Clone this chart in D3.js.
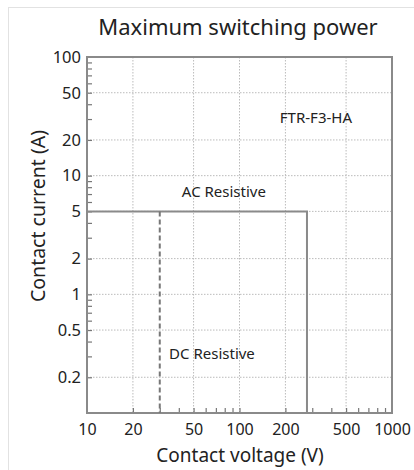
<!DOCTYPE html>
<html><head><meta charset="utf-8">
<script src="https://cdn.jsdelivr.net/npm/d3@7"></script>
<style>
html,body{margin:0;padding:0;background:#fff;}
svg{display:block;}
text{font-family:"Noto Sans",sans-serif;fill:#222;}
</style></head>
<body>
<script>
// ---- data ----
const title = "Maximum switching power";
const xLabel = "Contact voltage (V)";
const yLabel = "Contact current (A)";
const xDomain = [10, 1000];
const yDomain = [0.1, 100];
const xTickLabels = [10, 20, 50, 100, 200, 500, 1000];
const yTickLabels = [0.2, 0.5, 1, 2, 5, 10, 20, 50, 100];
const xGrid = [20, 50, 100, 200, 500];
const yGrid = [0.2, 0.5, 1, 2, 5, 10, 20, 50];
const xMinor = [20,30,40,50,60,70,80,90,100,200,300,400,500,600,700,800,900];
const yMinor = [0.2,0.3,0.4,0.5,0.6,0.7,0.8,0.9,1,2,3,4,5,6,7,8,9,10,20,30,40,50,60,70,80,90];
const acVoltage = [10, 277, 277];
const acCurrent = [5, 5, 0.1];
const dcVoltage = [30, 30];
const dcCurrent = [5, 0.1];
const notes = [
  {text:"FTR-F3-HA", v:317, a:28},
  {text:"AC Resistive", v:79, a:6.6},
  {text:"DC Resistive", v:66, a:0.285}
];

// ---- layout ----
const W = 414, H = 470;
const L = 87, R = 392, T = 57, B = 413;
const svg = d3.select("body").append("svg").attr("width", W).attr("height", H);

// faint outer frame
svg.append("line").attr("x1",8).attr("x2",W).attr("y1",7.5).attr("y2",7.5).attr("stroke","#e2e2e2");
svg.append("line").attr("x1",8.5).attr("x2",8.5).attr("y1",7).attr("y2",H).attr("stroke","#e2e2e2");

const x = d3.scaleLog().domain(xDomain).range([L, R]);
const y = d3.scaleLog().domain(yDomain).range([B, T]);

// grid
const g = svg.append("g");
g.selectAll(".gx").data(xGrid).join("line")
  .attr("x1", d=>x(d)).attr("x2", d=>x(d)).attr("y1", T).attr("y2", B)
  .attr("stroke","#bbb").attr("stroke-width",1).attr("stroke-dasharray","1.5,1.5");
g.selectAll(".gy").data(yGrid).join("line")
  .attr("x1", L).attr("x2", R).attr("y1", d=>y(d)).attr("y2", d=>y(d))
  .attr("stroke","#bbb").attr("stroke-width",1).attr("stroke-dasharray","1.5,1.5");

// minor ticks (inside)
const minorX = d3.axisTop(x).tickValues(xMinor).tickSize(5).tickFormat("");
svg.append("g").attr("transform",`translate(0,${B})`).call(minorX)
  .call(s=>s.select(".domain").remove())
  .call(s=>s.selectAll("line").attr("stroke","#777").attr("stroke-width",1.2));
const minorY = d3.axisRight(y).tickValues(yMinor).tickSize(5).tickFormat("");
svg.append("g").attr("transform",`translate(${L},0)`).call(minorY)
  .call(s=>s.select(".domain").remove())
  .call(s=>s.selectAll("line").attr("stroke","#777").attr("stroke-width",1.2));

// frame
svg.append("rect").attr("x",L).attr("y",T).attr("width",R-L).attr("height",B-T)
  .attr("fill","none").attr("stroke","#8a8a8a").attr("stroke-width",2);

// labels via axes
const ax = d3.axisBottom(x).tickValues(xTickLabels).tickSize(0).tickPadding(11).tickFormat(d3.format("d"));
svg.append("g").attr("transform",`translate(0,${B})`).call(ax)
  .call(s=>s.select(".domain").remove())
  .call(s=>s.selectAll("text").attr("font-size",16).attr("fill","#333").attr("font-family","Noto Sans"));
const ay = d3.axisLeft(y).tickValues(yTickLabels).tickSize(0).tickPadding(6).tickFormat(d=>String(d));
svg.append("g").attr("transform",`translate(${L},0)`).call(ay)
  .call(s=>s.select(".domain").remove())
  .call(s=>s.selectAll("text").attr("font-size",16.5).attr("fill","#333").attr("font-family","Noto Sans"));

// boundaries
const line = d3.line().x(d=>x(d[0])).y(d=>y(d[1]));
svg.append("path").datum(acVoltage.map((v,i)=>[v,acCurrent[i]]))
  .attr("d", line).attr("fill","none").attr("stroke","#8a8a8a").attr("stroke-width",2);
svg.append("path").datum(dcVoltage.map((v,i)=>[v,dcCurrent[i]]))
  .attr("d", line).attr("fill","none").attr("stroke","#777").attr("stroke-width",2)
  .attr("stroke-dasharray","5,3");

// annotations
svg.selectAll(".note").data(notes).join("text")
  .attr("x", d=>x(d.v)).attr("y", d=>y(d.a)).attr("text-anchor","middle")
  .attr("font-size",15).attr("fill","#333").text(d=>d.text);

// titles
svg.append("text").attr("x",238).attr("y",35).attr("text-anchor","middle")
  .attr("font-size",22).attr("fill","#111").text(title);
svg.append("text").attr("x",240).attr("y",462).attr("text-anchor","middle")
  .attr("font-size",19).attr("fill","#222").text(xLabel);
svg.append("text").attr("transform","translate(45,216) rotate(-90)").attr("text-anchor","middle")
  .attr("font-size",19.5).attr("fill","#222").text(yLabel);
</script>
</body></html>
